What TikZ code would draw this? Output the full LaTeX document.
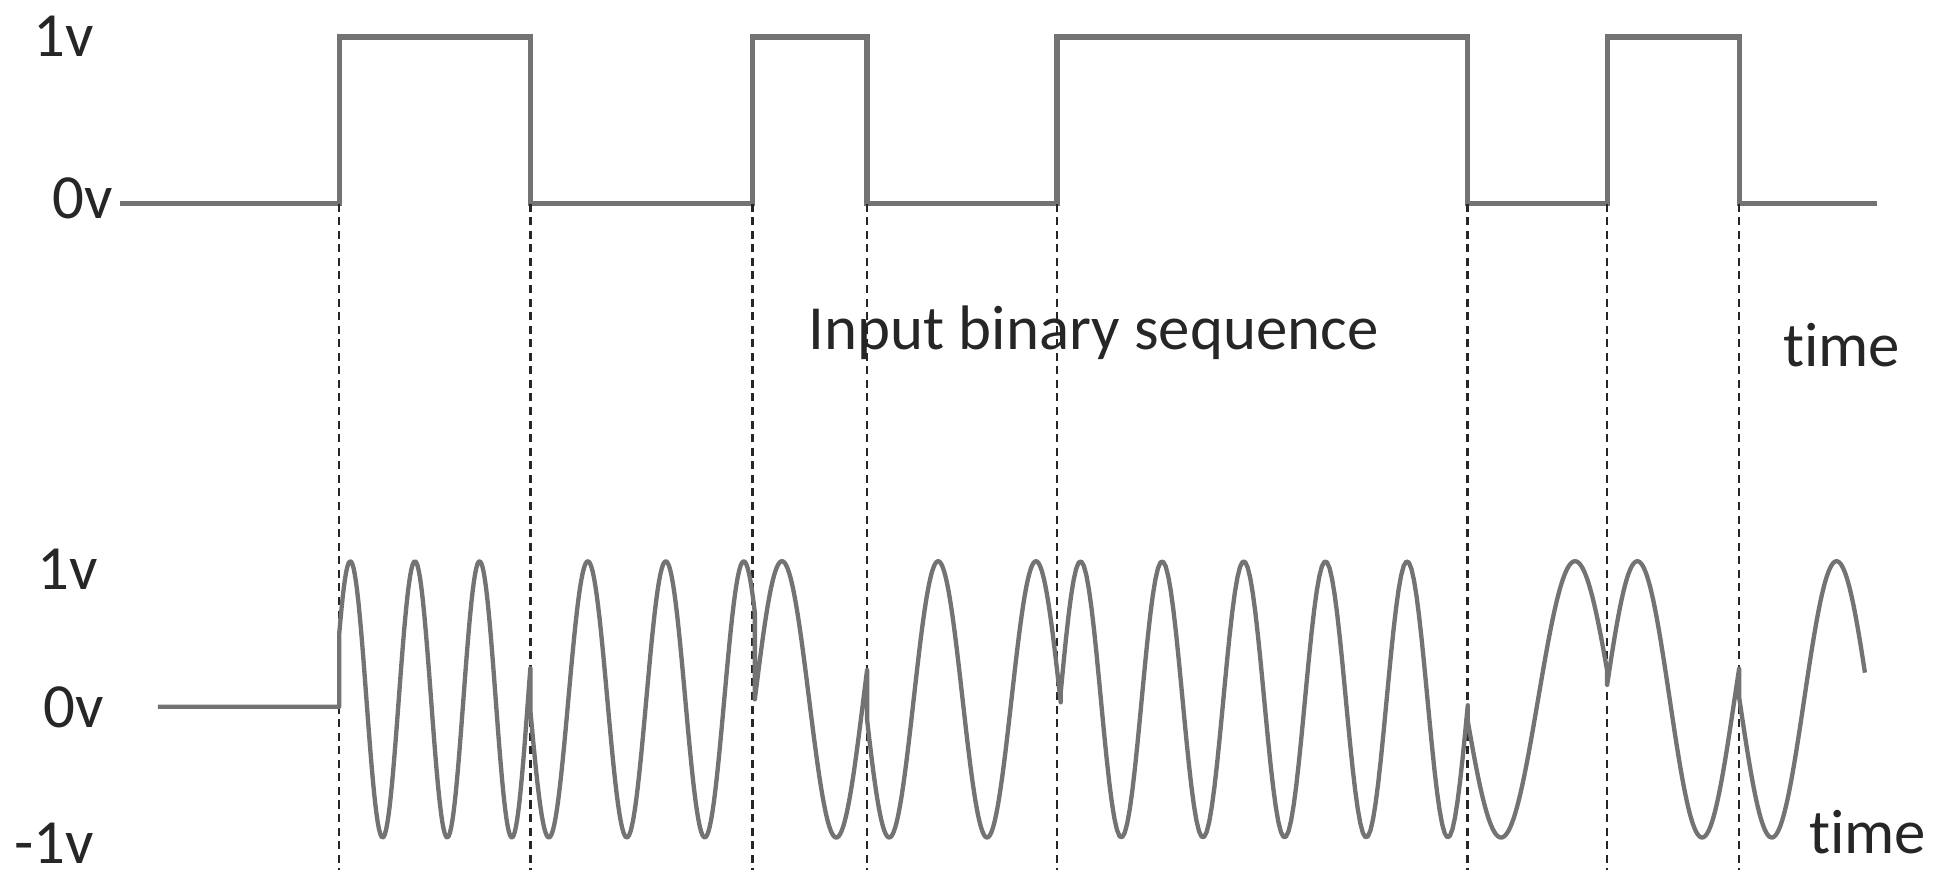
\documentclass[tikz,border=0pt]{standalone}
\usepackage{fontspec}
\setmainfont{Carlito}[Ligatures=NoCommon]
\usetikzlibrary{calc}

\begin{document}
\begin{tikzpicture}[
  x=0.1mm, y=-0.1mm,
  font=\fontsize{14.5}{17}\selectfont,
  lbl/.style={text=black!85, inner sep=0pt},
  sq/.style={draw=black!55, line width=1.2pt, line join=miter},
  wave/.style={draw=black!55, line width=1pt, line join=round},
  guide/.style={black!85, line width=0.6pt, dash pattern=on 0.65mm off 0.45mm},
]
\useasboundingbox (0,0) rectangle (1568,714);

% ---------- levels (units: 0.1mm, y grows downwards) ----------
\pgfmathsetmacro{\yhi}{30}    % top trace, 1v
\pgfmathsetmacro{\ylo}{165}   % top trace, 0v
\pgfmathsetmacro{\yzero}{573} % carrier rest level
\pgfmathsetmacro{\ymid}{567}  % centre of the carrier swing
\pgfmathsetmacro{\amp}{112}   % carrier amplitude
\pgfmathsetmacro{\ybot}{705}  % lower end of the guides

% bit edges: low point, high point, guide end
\foreach \t/\xe in {1/275, 2/430, 3/610, 4/703, 5/857, 6/1190, 7/1303, 8/1410} {
  \coordinate (e\t) at (\xe,\ylo);
  \coordinate (h\t) at (\xe,\yhi);
  \coordinate (g\t) at (\xe,\ybot);
}
\coordinate (topstart) at (97,\ylo);
\coordinate (topend) at (1522,\ylo);
\coordinate (botstart) at (128,\yzero);
\coordinate (botedge) at (275,\yzero);

% ---------- Panel (a): input binary sequence ----------
\node[lbl, anchor=base east] (tophi) at (77,46) {1v};
\node[lbl, anchor=base east] (toplo) at (92,177) {0v};
\node[lbl, anchor=base west] (seqlabel) at (655,283) {Input binary sequence};
\node[lbl, anchor=base west] (toptime) at (1445,297) {time};

\draw[sq] (topstart) -- (e1) -- (h1) -- (h2) -- (e2) -- (e3) -- (h3) -- (h4) -- (e4)
  -- (e5) -- (h5) -- (h6) -- (e6) -- (e7) -- (h7) -- (h8) -- (e8) -- (topend);

\foreach \t in {1,...,8}
  \draw[guide] (e\t) -- (g\t);

% ---------- Panel (b): modulated carrier ----------
\node[lbl, anchor=base east] (bothi) at (80,478) {1v};
\node[lbl, anchor=base east] (botmid) at (85,590) {0v};
\node[lbl, anchor=base east] (botlo) at (77,700) {-1v};
\node[lbl, anchor=base west] (bottime) at (1466,692) {time};

% one piece per bit: from/to/peak position/period
\draw[wave] (botstart) -- (botedge)
  \foreach \xa/\xb/\xp/\per in {275/430/284/52.4, 430/612/413.4/63.2, 612/703/634/88,
      703/860/681.3/79.3, 860/1190/876/66.2, 1190/1303/1277/120,
      1303/1410/1327.5/105, 1410/1512/1489/105} {
    -- plot[domain=\xa:\xb, samples=160] (\x, {\ymid-\amp*cos(((\x-\xp)/\per)*360)})
  };
\end{tikzpicture}
\end{document}
